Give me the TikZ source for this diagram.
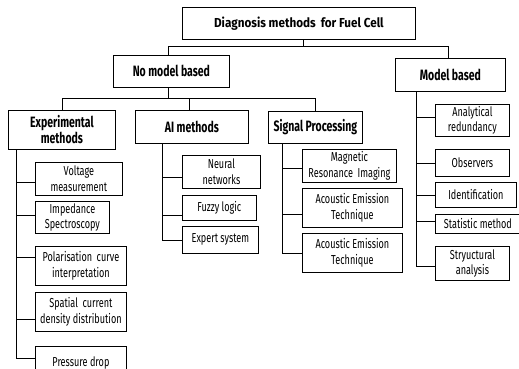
\documentclass[tikz,border=0pt]{standalone}
\usepackage{fontspec}
\setmainfont{Fira Sans}[FakeStretch=0.7]
\newfontfamily\headfont{Fira Sans}[FakeStretch=0.7]
\newfontfamily\rootfont{Fira Sans}[FakeStretch=0.9]
\begin{document}
\begin{tikzpicture}[x=1pt,y=-1pt,
  box/.style={draw, line width=0.8pt, inner sep=1pt, align=center, anchor=north west, font=\fontsize{13}{15.5}\selectfont},
  head/.style={box, font=\headfont\fontsize{15}{16}\selectfont\bfseries},
  conn/.style={line width=0.8pt}]
\clip (0,0) rectangle (519,369);
\fill[white] (0,0) rectangle (519,369);
% level 0/1
\node[head, minimum width=233, minimum height=32, font=\rootfont\fontsize{13}{14}\selectfont\bfseries] (root) at (182,7) {Diagnosis methods\, for Fuel Cell};
\node[head, minimum width=116, minimum height=32] (nomb) at (113,55) {No model based};
\node[head, minimum width=110, minimum height=33] (mb) at (395,58) {Model based};
% level 2
\node[head, minimum width=107, minimum height=39] (exp) at (8,110) {Experimental\\methods};
\node[head, minimum width=113, minimum height=33] (ai) at (135,110) {AI methods};
\node[head, minimum width=94, minimum height=32] (sp) at (268,111) {Signal Processing};
% experimental children
\node[box, minimum width=87, minimum height=33] (vm) at (35,162) {Voltage\\measurement};
\node[box, minimum width=74, minimum height=32] (imp) at (35,201) {Impedance\\Spectroscopy};
\node[box, minimum width=91, minimum height=39] (pol) at (35,246) {Polarisation\, curve\\interpretation};
\node[box, minimum width=91, minimum height=39] (spa) at (35,292) {Spatial\, current\\density distribution};
\node[box, minimum width=91, minimum height=30, text depth=0pt] (pd) at (35,346) {Pressure drop};
% AI children
\node[box, minimum width=78, minimum height=33] (nn) at (182,155) {Neural\\networks};
\node[box, minimum width=74, minimum height=25] (fz) at (182,195) {Fuzzy logic};
\node[box, minimum width=76, minimum height=27] (es) at (182,226) {Expert system};
% signal processing children
\node[box, minimum width=94, minimum height=33] (mri) at (302,149) {Magnetic\\Resonance\, Imaging};
\node[box, minimum width=100, minimum height=39] (ae1) at (302,188) {Acoustic Emission\\Technique};
\node[box, minimum width=100, minimum height=39] (ae2) at (302,233) {Acoustic Emission\\Technique};
% model based children
\node[box, minimum width=74, minimum height=32] (ar) at (435,104) {Analytical\\redundancy};
\node[box, minimum width=74, minimum height=27] (ob) at (435,149) {Observers};
\node[box, minimum width=81, minimum height=25] (id) at (435,182) {Identification};
\node[box, minimum width=85, minimum height=19] (st) at (435,214) {Statistic method};
\node[box, minimum width=74, minimum height=34] (sa) at (435,246) {Stryuctural\\analysis};
% connectors top
\draw[conn] ([xshift=4.5pt]root.south) -- ++(0,7);
\draw[conn] ([xshift=-3pt]nomb.north) -- ++(0,-9) -| ([xshift=-2pt]mb.north);
\draw[conn] ([xshift=-3pt]nomb.south) -- ++(0,11);
\draw[conn] (exp.north) -- ++(0,-12) -| (sp.north);
\draw[conn] ([xshift=-2.5pt]ai.north) -- ++(0,-12);
% experimental branches
\draw[conn] ([xshift=-45.5pt]exp.south) |- ([yshift=-3.5pt]vm.west);
\draw[conn] ([xshift=-45.5pt]exp.south) |- ([yshift=2pt]imp.west);
\draw[conn] ([xshift=-45.5pt]exp.south) |- ([yshift=8.5pt]pol.west);
\draw[conn] ([xshift=-45.5pt]exp.south) |- ([yshift=-7.5pt]spa.west);
\draw[conn] ([xshift=-45.5pt]exp.south) |- ([yshift=3pt]pd.west);
% AI branches
\draw[conn] ([xshift=-29.5pt]ai.south) |- ([yshift=-5.5pt]nn.west);
\draw[conn] ([xshift=-29.5pt]ai.south) |- ([yshift=-7.5pt]fz.west);
\draw[conn] ([xshift=-29.5pt]ai.south) |- (es.west);
% signal branches
\draw[conn] ([xshift=-33pt]sp.south) |- ([yshift=-2.5pt]mri.west);
\draw[conn] ([xshift=-33pt]sp.south) |- ([yshift=-6.5pt]ae1.west);
\draw[conn] ([xshift=-33pt]sp.south) |- (ae2.west);
% model based branches
\draw[conn] ([xshift=-34pt]mb.south) |- ([yshift=3pt]ar.west);
\draw[conn] ([xshift=-34pt]mb.south) |- (ob.west);
\draw[conn] ([xshift=-34pt]mb.south) |- (id.west);
\draw[conn] ([xshift=-34pt]mb.south) |- ([yshift=2.5pt]st.west);
\draw[conn] ([xshift=-34pt]mb.south) |- ([yshift=-3pt]sa.west);
\end{tikzpicture}
\end{document}
